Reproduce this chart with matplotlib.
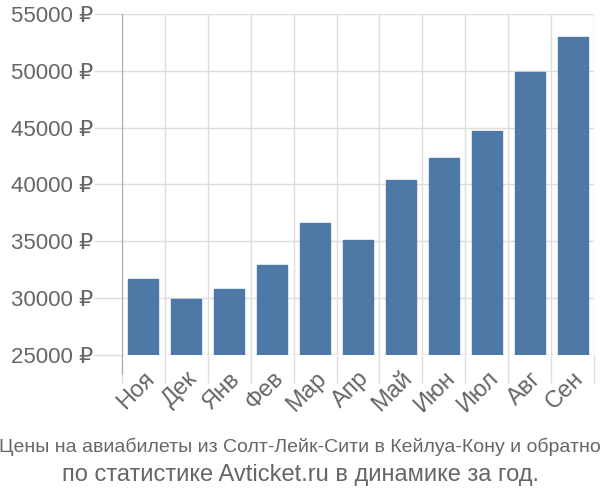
import numpy as np
from matplotlib import pyplot as plt
from matplotlib.ticker import FuncFormatter

months = ['Ноя', 'Дек', 'Янв', 'Фев', 'Мар', 'Апр', 'Май', 'Июн', 'Июл', 'Авг', 'Сен']
prices = [31700, 29900, 30800, 32900, 36600, 35100, 40400, 42300, 44700, 49900, 53000]
yticks = [25000, 30000, 35000, 40000, 45000, 50000, 55000]

plt.rcParams['font.family'] = ['Liberation Sans', 'DejaVu Sans']

fig = plt.figure(figsize=(6, 5), dpi=100)
ax = fig.add_axes([122 / 600, 1 - 355 / 500, 472 / 600, 341 / 500])

x = np.arange(len(months))
ax.bar(x, prices, width=0.7, bottom=0, color='#4e79a7', edgecolor='#4e79a7', zorder=3)

ax.set_xlim(-0.5, len(months) - 0.5)
ax.set_ylim(25000, 55000)
ax.set_yticks(yticks)
ax.yaxis.set_major_formatter(FuncFormatter(lambda v, p: f'{int(v)} ₽'))

ax.set_xticks(x)
ax.set_xticklabels(months, rotation=45, ha='right', rotation_mode='anchor')
ax.set_xticks(np.arange(len(months) + 1) - 0.5, minor=True)
ax.tick_params(axis='x', which='major', length=0, pad=9, labelsize=17, colors='#666666')
ax.tick_params(axis='x', which='minor', length=20, color='#dddddd', width=1)
ax.tick_params(axis='y', length=20, color='#dddddd', width=1, labelsize=16, colors='#666666', pad=1)

ax.grid(True, which='minor', axis='x', color='#dddddd', lw=1, zorder=0)
ax.grid(True, which='major', axis='y', color='#dddddd', lw=1, zorder=0)

for s in ['top', 'right', 'bottom']:
    ax.spines[s].set_visible(False)
ax.spines['left'].set_color('#aaaaaa')
ax.spines['left'].set_bounds(25000 - 30000 * 19 / 341, 55000)

fig.text(0.5, 1 - 447 / 500, 'Цены на авиабилеты из Солт-Лейк-Сити в Кейлуа-Кону и обратно',
         ha='center', va='center', fontsize=14, color='#666666')
fig.text(0.5, 1 - 475 / 500, 'по статистике Avticket.ru в динамике за год.',
         ha='center', va='center', fontsize=17, color='#666666')

fig.savefig('out.png', dpi=100)
